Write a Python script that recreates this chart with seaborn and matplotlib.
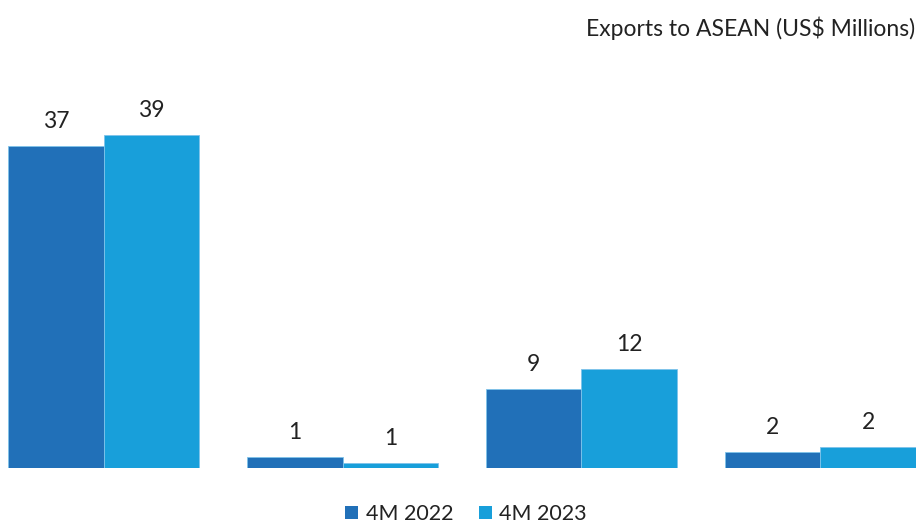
import matplotlib
matplotlib.use("Agg")
import matplotlib.pyplot as plt
import seaborn as sns
import pandas as pd
from matplotlib.patches import Patch

categories = ["A", "B", "C", "D"]
series = ["4M 2022", "4M 2023"]
values_2022 = [37.4, 1.3, 9.2, 1.9]
values_2023 = [38.7, 0.6, 11.5, 2.4]
labels_2022 = ["37", "1", "9", "2"]
labels_2023 = ["39", "1", "12", "2"]
colors = ["#2170B8", "#189FDA"]

df = pd.DataFrame({
    "cat": categories * 2,
    "series": [series[0]] * 4 + [series[1]] * 4,
    "value": values_2022 + values_2023,
})

sns.set_theme(style="white")
plt.rcParams["font.family"] = ["Lato", "DejaVu Sans"]

fig = plt.figure(figsize=(9.17, 5.27), dpi=100)
W, H = 917, 527
ax = fig.add_axes([8 / W, (H - 468) / H, (916 - 8) / W, (468 - 81) / H])

sns.barplot(data=df, x="cat", y="value", hue="series", palette=colors,
            width=0.8, gap=0, ax=ax, legend=False, edgecolor="#7fc3ea",
            linewidth=0.6, saturation=1)

ax.set_xlim(-0.4, 3.4)
ax.set_ylim(0, 45)
ax.set_xlabel("")
ax.set_ylabel("")
ax.set_xticks([])
ax.set_yticks([])
for s in ax.spines.values():
    s.set_visible(False)

for cont, labs in zip(ax.containers, [labels_2022, labels_2023]):
    ax.bar_label(cont, labels=labs, padding=10, fontsize=16.5, color="#222222")

fig.text(915 / W, 1 - 28 / H, "Exports to ASEAN (US$ Millions)", ha="right",
         va="center", fontsize=16.5, color="#222222")

handles = [Patch(facecolor=c, edgecolor="none") for c in colors]
fig.legend(handles, series, loc="center", bbox_to_anchor=(466 / W, 1 - 514 / H),
           ncol=2, frameon=False, fontsize=15.5, handlelength=0.6, handleheight=0.6,
           handletextpad=0.35, columnspacing=1.2, labelcolor="#222222",
           borderpad=0.1)

fig.savefig("out.png", dpi=100)
